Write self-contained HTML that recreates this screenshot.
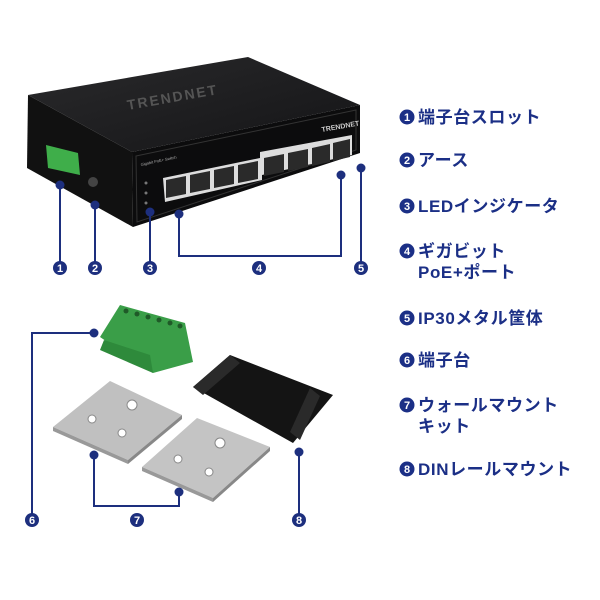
<!DOCTYPE html>
<html><head><meta charset="utf-8"><style>
html,body{margin:0;padding:0;background:#fff;}
svg{display:block}
.t{font-family:"Liberation Sans","Noto Sans CJK JP",sans-serif;font-weight:bold;font-size:17px;fill:#1b2f86;letter-spacing:0.6px}
.n{font-family:"Liberation Sans",sans-serif;font-weight:bold;font-size:11px;fill:#fff;text-anchor:middle}
</style></head><body>
<svg width="600" height="600" viewBox="0 0 600 600" xmlns="http://www.w3.org/2000/svg">
<defs><linearGradient id="g1" x1="0" y1="0" x2="1" y2="1"><stop offset="0" stop-color="#2a2a2c"/><stop offset="1" stop-color="#141416"/></linearGradient></defs>
<!-- switch -->
<polygon points="28,95 248,57 360,105 132,152" fill="url(#g1)"/>
<polygon points="28,95 132,152 133,227 27,168" fill="#111"/>
<polygon points="132,152 360,105 360,153 133,227" fill="#0c0c0d"/>
<polygon points="136,156 356,110 356,150 137,222" fill="none" stroke="#333" stroke-width="1"/>
<text x="128" y="110" transform="rotate(-10 128 110)" font-family="Liberation Sans" font-weight="bold" font-size="14" fill="#555" letter-spacing="2">TRENDNET</text>
<text x="322" y="132" transform="rotate(-10 322 132)" font-family="Liberation Sans" font-weight="bold" font-size="7" fill="#ccc">TRENDNET</text>
<text x="141" y="166" transform="rotate(-12 141 166)" font-family="Liberation Sans" font-size="4" fill="#aaa">Gigabit PoE+ Switch</text>
<!-- port panel -->
<polygon points="163,178 260,158 260,152 352,135 352,155 262,175 262,180 165,202" fill="#ddd"/>
<g fill="#2a2a2a">
<polygon points="166,180 186,176 186,194 166,198"/>
<polygon points="190,175 210,171 210,189 190,193"/>
<polygon points="214,170 234,166 234,184 214,188"/>
<polygon points="238,165 258,161 258,179 238,183"/>
<polygon points="264,158 284,154 284,172 264,176"/>
<polygon points="288,153 308,149 308,167 288,171"/>
<polygon points="312,148 330,144 330,162 312,166"/>
<polygon points="333,143 350,139 350,157 333,161"/>
</g>
<circle cx="146" cy="183" r="1.5" fill="#777"/><circle cx="146" cy="193" r="1.5" fill="#777"/><circle cx="146" cy="203" r="1.5" fill="#777"/>
<!-- terminal on switch -->
<polygon points="46,145 78,153 80,175 48,168" fill="#3fae4a"/>
<circle cx="93" cy="182" r="5" fill="#444"/>
<!-- bottom items -->
<polygon points="100,337 120,305 185,323 193,362 153,373" fill="#3a9e48"/>
<polygon points="104,340 150,355 153,373 100,350" fill="#2e8a3b"/>
<g fill="#1f5a28"><circle cx="126" cy="311" r="2.5"/><circle cx="137" cy="314" r="2.5"/><circle cx="148" cy="317" r="2.5"/><circle cx="159" cy="320" r="2.5"/><circle cx="170" cy="323" r="2.5"/><circle cx="180" cy="326" r="2.5"/></g>
<polygon points="53,427 110,381 182,415 128,460" fill="#c0c0c0"/>
<polygon points="53,427 128,460 128,464 53,431" fill="#999"/>
<polygon points="128,460 182,415 182,419 128,464" fill="#888"/>
<polygon points="142,467 197,418 270,447 213,498" fill="#c4c4c4"/>
<polygon points="142,467 213,498 213,502 142,471" fill="#999"/>
<polygon points="213,498 270,447 270,451 213,502" fill="#888"/>
<g fill="#fff" stroke="#888" stroke-width="1">
<circle cx="92" cy="419" r="4"/><circle cx="122" cy="433" r="4"/><circle cx="132" cy="405" r="5"/>
<circle cx="178" cy="459" r="4"/><circle cx="209" cy="472" r="4"/><circle cx="220" cy="443" r="5"/>
</g>
<polygon points="193,387 230,355 333,395 293,443" fill="#141414"/>
<polygon points="230,355 240,363 203,395 193,387" fill="#2a2a2a"/>
<polygon points="310,388 320,396 300,440 290,432" fill="#2a2a2a"/>
<!-- connectors -->
<g stroke="#1d2f7e" stroke-width="2" fill="none">
<path d="M60 185V262"/><path d="M95 205V262"/><path d="M150 212V262"/>
<path d="M179 214V256H341V175"/><path d="M361 168V262"/>
<path d="M94 333H32V514"/><path d="M94 455V506H179V492"/><path d="M299 452V514"/>
</g>
<g fill="#1d2f7e">
<circle cx="60" cy="185" r="4.5"/><circle cx="95" cy="205" r="4.5"/><circle cx="150" cy="212" r="4.5"/>
<circle cx="179" cy="214" r="4.5"/><circle cx="341" cy="175" r="4.5"/><circle cx="361" cy="168" r="4.5"/>
<circle cx="94" cy="333" r="4.5"/><circle cx="94" cy="455" r="4.5"/><circle cx="179" cy="492" r="4.5"/><circle cx="299" cy="452" r="4.5"/>
<circle cx="60" cy="268" r="7"/><circle cx="95" cy="268" r="7"/><circle cx="150" cy="268" r="7"/><circle cx="259" cy="268" r="7"/><circle cx="361" cy="268" r="7"/>
<circle cx="32" cy="520" r="7"/><circle cx="137" cy="520" r="7"/><circle cx="299" cy="520" r="7"/>
</g>
<text class="n" x="60" y="272">1</text><text class="n" x="95" y="272">2</text><text class="n" x="150" y="272">3</text><text class="n" x="259" y="272">4</text><text class="n" x="361" y="272">5</text>
<text class="n" x="32" y="524">6</text><text class="n" x="137" y="524">7</text><text class="n" x="299" y="524">8</text>
<!-- legend -->
<g fill="#1b2f86">
<circle cx="407" cy="117" r="7.5"/><circle cx="407" cy="160" r="7.5"/><circle cx="407" cy="206" r="7.5"/><circle cx="407" cy="251" r="7.5"/>
<circle cx="407" cy="318" r="7.5"/><circle cx="407" cy="360" r="7.5"/><circle cx="407" cy="405" r="7.5"/><circle cx="407" cy="469" r="7.5"/>
</g>
<text class="n" x="407" y="121">1</text><text class="n" x="407" y="164">2</text><text class="n" x="407" y="210">3</text><text class="n" x="407" y="255">4</text>
<text class="n" x="407" y="322">5</text><text class="n" x="407" y="364">6</text><text class="n" x="407" y="409">7</text><text class="n" x="407" y="473">8</text>
<text class="t" x="418" y="123">端子台スロット</text>
<text class="t" x="418" y="166">アース</text>
<text class="t" x="418" y="212">LEDインジケータ</text>
<text class="t" x="418" y="257">ギガビット</text>
<text class="t" x="418" y="278">PoE+ポート</text>
<text class="t" x="418" y="324">IP30メタル筐体</text>
<text class="t" x="418" y="366">端子台</text>
<text class="t" x="418" y="411">ウォールマウント</text>
<text class="t" x="418" y="432">キット</text>
<text class="t" x="418" y="475">DINレールマウント</text>
</svg>
</body></html>
